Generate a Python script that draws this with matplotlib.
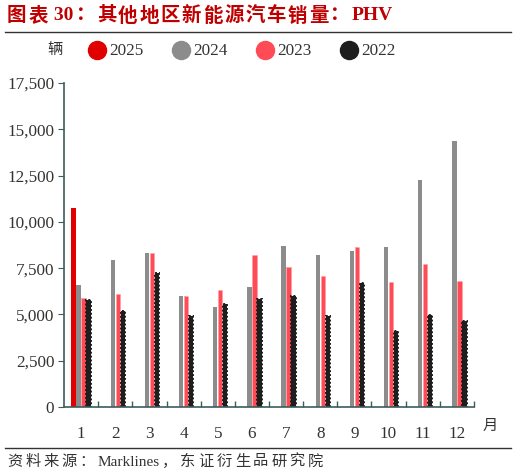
import numpy as np
import matplotlib
matplotlib.use("Agg")
import matplotlib.pyplot as plt
from matplotlib.lines import Line2D
from matplotlib.ticker import FuncFormatter

plt.rcParams['font.family'] = ['Liberation Serif', 'Noto Sans CJK SC', 'DejaVu Sans']

months = ['1', '2', '3', '4', '5', '6', '7', '8', '9', '10', '11', '12']
years = ['2025', '2024', '2023', '2022']
v2025 = [10730, np.nan, np.nan, np.nan, np.nan, np.nan, np.nan, np.nan, np.nan, np.nan, np.nan, np.nan]
v2024 = [6600, 7950, 8300, 5980, 5420, 6460, 8720, 8230, 8450, 8660, 12250, 14360]
v2023 = [5910, 6120, 8300, 5980, 6330, 8230, 7550, 7100, 8660, 6750, 7740, 6820]
v2022 = [5770, 5180, 7230, 4910, 5540, 5830, 5970, 4910, 6680, 4130, 4980, 4640]
series = [v2025, v2024, v2023, v2022]
colors = ['#E00000', '#8C8C8C', '#FF4B55', '#1E1E1E']

axis_col = '#3D5C5C'
W, H = 517, 475

fig = plt.figure(figsize=(5.17, 4.75), dpi=100)
ax = fig.add_axes([64 / W, 1 - 407 / H, 410 / W, 324 / H])

x = np.arange(len(months))
step = 0.146
w = 0.13
for i, (vals, c) in enumerate(zip(series, colors)):
    pos = x + (i - 1.5) * step
    if years[i] == '2023':
        ax.bar(pos, vals, width=w, color=c, edgecolor='#FF9AA0', linewidth=0.7, linestyle=':')
    elif years[i] == '2022':
        ax.bar(pos, vals, width=w, color=c, edgecolor=c, linewidth=1.4, linestyle=(0, (1, 1)))
    else:
        ax.bar(pos, vals, width=w, color=c, linewidth=0)

ax.set_xlim(-0.5, 11.5)
ax.set_ylim(0, 17500)
ax.set_yticks(np.arange(0, 17501, 2500))
ax.yaxis.set_major_formatter(FuncFormatter(lambda v, p: f'{int(v):,}'))
ax.set_xticks(x)
ax.set_xticklabels(months)
ax.set_xticks(x + 0.5, minor=True)

for s in ['top', 'right']:
    ax.spines[s].set_visible(False)
for s in ['left', 'bottom']:
    ax.spines[s].set_color(axis_col)
    ax.spines[s].set_linewidth(1.2)

ax.tick_params(axis='y', direction='out', length=4, color=axis_col, labelsize=12.3, labelcolor='#333333', pad=3)
ax.tick_params(axis='x', which='major', length=0, labelsize=12.3, labelcolor='#333333', pad=14)
ax.tick_params(axis='x', which='minor', direction='in', length=4, color=axis_col, width=1)

renderer = fig.canvas.get_renderer()


def spaced_text(x0, y0, s, size, adv, **kw):
    # CJK glyphs get a fixed advance (the source uses letter spacing), latin runs flow normally
    xp = x0
    run = ''
    chunks = []
    for ch in s:
        if ord(ch) > 0x2E80:
            if run:
                chunks.append(run)
                run = ''
            chunks.append(ch)
        else:
            run += ch
    if run:
        chunks.append(run)
    for ch in chunks:
        t = fig.text(xp / W, 1 - y0 / H, ch, fontsize=size, va='center', ha='left', **kw)
        if len(ch) == 1 and ord(ch) > 0x2E80:
            xp += adv
        else:
            xp += t.get_window_extent(renderer).width + 2


# title and rules
spaced_text(7, 16, '图表 30：其他地区新能源汽车销量：PHV', 14, 21.2, color='#C00000', fontweight='bold')
fig.add_artist(Line2D([5 / W, 511 / W], [1 - 31.5 / H, 1 - 31.5 / H], color='#333333', lw=1))
fig.add_artist(Line2D([5 / W, 511 / W], [1 - 447.5 / H, 1 - 447.5 / H], color='#333333', lw=1))

# legend
fig.text(55 / W, 1 - 50 / H, '辆', fontsize=11, color='#333333', va='center', ha='center')
for i, (yr, c) in enumerate(zip(years, colors)):
    cx = (97 + 84 * i) / W
    fig.add_artist(Line2D([cx], [1 - 50 / H], marker='o', markersize=13, color=c, linestyle='none'))
    fig.text(cx + 12 / W, 1 - 51 / H, yr, fontsize=12.3, color='#333333', va='center', ha='left')

fig.text(490 / W, 1 - 426 / H, '月', fontsize=11, color='#333333', va='center', ha='center')
spaced_text(7, 462, '资料来源：Marklines，东证衍生品研究院', 11, 18.2, color='#333333')

fig.savefig('out.png', dpi=100)
